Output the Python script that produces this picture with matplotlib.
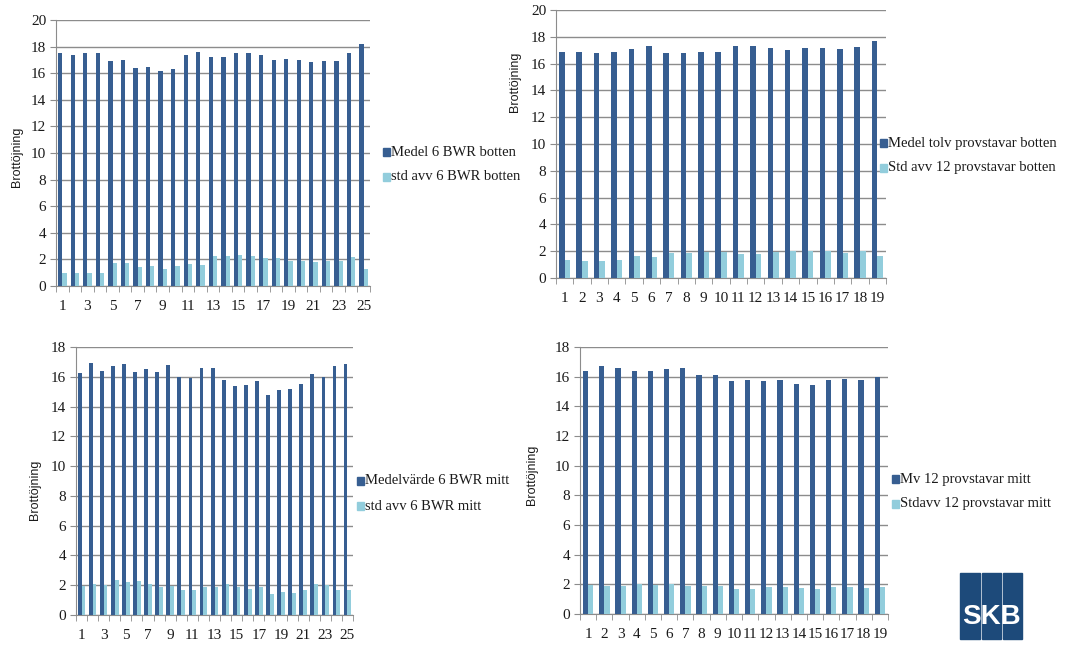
import matplotlib.pyplot as plt
from matplotlib.patches import Rectangle

# panel data
bwr_botten_medel = [17.5, 17.35, 17.5, 17.5, 16.9, 17.0, 16.4, 16.45, 16.2, 16.3, 17.35, 17.6, 17.2,
                    17.2, 17.55, 17.5, 17.35, 17.0, 17.1, 17.0, 16.85, 16.9, 16.9, 17.55, 18.2]
bwr_botten_std = [1.0, 1.0, 1.0, 1.0, 1.7, 1.7, 1.45, 1.5, 1.3, 1.5, 1.65, 1.6, 2.25,
                  2.25, 2.3, 2.25, 2.1, 2.1, 1.85, 1.9, 1.8, 1.85, 1.85, 2.2, 1.3]

tolv_botten_medel = [16.9, 16.9, 16.8, 16.9, 17.1, 17.3, 16.8, 16.8, 16.9, 16.9, 17.3, 17.3, 17.15,
                     17.05, 17.2, 17.2, 17.1, 17.25, 17.65]
tolv_botten_std = [1.35, 1.3, 1.3, 1.35, 1.65, 1.6, 1.9, 1.85, 1.95, 1.95, 1.8, 1.8, 1.95,
                   2.0, 2.0, 2.0, 1.9, 2.0, 1.65]

bwr_mitt_medel = [16.25, 16.95, 16.4, 16.7, 16.85, 16.35, 16.55, 16.35, 16.8, 16.0, 15.95, 16.6, 16.6,
                  15.8, 15.35, 15.45, 15.7, 14.8, 15.1, 15.15, 15.5, 16.2, 16.0, 16.75, 16.85]
bwr_mitt_std = [1.95, 2.1, 2.0, 2.35, 2.2, 2.3, 2.1, 1.9, 1.95, 1.7, 1.7, 1.9, 1.9,
                2.1, 1.85, 1.75, 1.85, 1.4, 1.55, 1.45, 1.7, 2.05, 2.0, 1.65, 1.65]

tolv_mitt_medel = [16.4, 16.7, 16.6, 16.35, 16.4, 16.5, 16.6, 16.1, 16.1, 15.7, 15.8, 15.7, 15.8,
                   15.5, 15.45, 15.75, 15.85, 15.75, 15.95]
tolv_mitt_std = [1.95, 1.9, 1.9, 2.0, 1.95, 2.0, 1.9, 1.9, 1.9, 1.7, 1.7, 1.85, 1.8,
                 1.75, 1.7, 1.85, 1.85, 1.75, 1.8]

legend_labels = [("Medel 6 BWR botten", "std avv 6 BWR botten"),
                 ("Medel tolv provstavar botten", "Std avv 12 provstavar botten"),
                 ("Medelvärde 6 BWR mitt", "std avv 6 BWR mitt"),
                 ("Mv 12 provstavar mitt", "Stdavv 12 provstavar mitt")]

DARK = "#375E91"
LIGHT = "#92CDDC"
GRID = "#8C8C8C"
SERIF = "Liberation Serif"

fig = plt.figure(figsize=(10.68, 6.45), dpi=100)


def px(x, y):
    return x / 1068, 1 - y / 645


def panel(rect, medel, std, ymax, width, step, labels, leg_xy, ylab_xy):
    ax = fig.add_axes(rect)
    n = len(medel)
    xs = list(range(n))
    ax.bar([x - width / 2 for x in xs], medel, width, color=DARK, zorder=3)
    ax.bar([x + width / 2 for x in xs], std, width, color=LIGHT, zorder=3)
    ax.set_xlim(-0.5, n - 0.5)
    ax.set_ylim(0, ymax)
    ax.set_yticks(range(0, ymax + 1, 2))
    ax.set_xticks(xs[::step])
    ax.set_xticklabels([str(x + 1) for x in xs[::step]])
    ax.set_xticks([x - 0.5 for x in range(n + 1)], minor=True)
    ax.tick_params(axis="x", which="major", length=0, pad=10)
    ax.tick_params(axis="x", which="minor", length=4, color=GRID, direction="out")
    ax.tick_params(axis="y", length=4, color=GRID, pad=3)
    for lab in ax.get_xticklabels() + ax.get_yticklabels():
        lab.set_fontfamily(SERIF)
        lab.set_fontsize(11)
        lab.set_color("#1a1a1a")
    ax.grid(axis="y", color=GRID, linewidth=1, zorder=0)
    for s in ("top", "right"):
        ax.spines[s].set_visible(False)
    ax.spines["left"].set_color(GRID)
    ax.spines["bottom"].set_color(GRID)
    ax.set_axisbelow(True)

    # legend
    lx, ly = leg_xy
    for i, (lab, col) in enumerate(zip(labels, (DARK, LIGHT))):
        yy = ly + i * 25
        x0, y0 = px(lx, yy + 4)
        fig.patches.append(Rectangle((x0, y0), 7 / 1068, 8 / 645, transform=fig.transFigure,
                                     color=col, figure=fig))
        tx, ty = px(lx + 8, yy)
        fig.text(tx, ty, lab, fontfamily=SERIF, fontsize=10.5, color="#1a1a1a", va="center")

    yx, yy = px(*ylab_xy)
    fig.text(yx, yy, "Brottöjning", rotation=90, fontfamily="Liberation Sans", fontsize=9,
             color="#1a1a1a", ha="center", va="center")
    return ax


panel([56 / 1068, 1 - 286 / 645, 314 / 1068, 266 / 645], bwr_botten_medel, bwr_botten_std,
      20, 0.34, 2, legend_labels[0], (383, 152), (17, 157))
panel([556 / 1068, 1 - 278 / 645, 330 / 1068, 268 / 645], tolv_botten_medel, tolv_botten_std,
      20, 0.32, 1, legend_labels[1], (880, 143), (515, 82))
panel([76 / 1068, 1 - 615 / 645, 277 / 1068, 268 / 645], bwr_mitt_medel, bwr_mitt_std,
      18, 0.34, 2, legend_labels[2], (357, 481), (35, 490))
panel([580 / 1068, 1 - 614 / 645, 308 / 1068, 267 / 645], tolv_mitt_medel, tolv_mitt_std,
      18, 0.32, 1, legend_labels[3], (892, 479), (532, 475))

# SKB logo
LOGO = "#1D4A7A"
for x0, x1 in ((960, 980), (982, 1001), (1003, 1022)):
    fx, fy = px(x0, 639)
    fig.patches.append(Rectangle((fx, fy), (x1 - x0) / 1068, 66 / 645, transform=fig.transFigure,
                                 color=LOGO, figure=fig))
lx, ly = px(991, 617)
fig.text(lx, ly, "SKB", fontfamily="Liberation Sans", fontweight="bold", fontsize=20,
         color="white", ha="center", va="center")

fig.savefig("out.png", dpi=100)
